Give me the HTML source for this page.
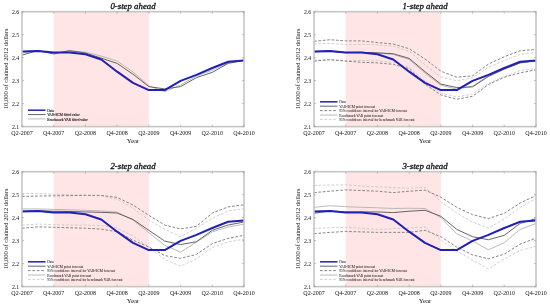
<!DOCTYPE html><html><head><meta charset="utf-8"><style>html,body{margin:0;padding:0;background:#fff;width:550px;height:307px;overflow:hidden}svg{display:block;filter:blur(0.35px)}text{font-family:"Liberation Serif",serif;fill:#111}</style></head><body>
<svg width="550" height="307" viewBox="0 0 550 307">
<rect x="53.71" y="11.7" width="95.14" height="114.9" fill="#ffe5e5"/>
<polyline points="22,53.06 37.86,50.77 53.71,52.83 69.57,51.23 85.43,52.14 101.29,56.05 117.14,61.11 133,71.91 148.86,85.93 164.71,91.67 180.57,85.01 196.43,76.04 212.29,70.3 228.14,62.72 244,59.96" fill="none" stroke="#aaaaaa" stroke-width="0.8" stroke-linejoin="round"/>
<polyline points="22,55.13 37.86,50.54 53.71,53.98 69.57,50.54 85.43,53.06 101.29,58.12 117.14,63.41 133,74.21 148.86,86.61 164.71,88.91 180.57,86.61 196.43,77.65 212.29,72.37 228.14,63.41 244,60.42" fill="none" stroke="#555" stroke-width="0.9" stroke-linejoin="round"/>
<polyline points="22,51.46 37.86,51 53.71,52.6 69.57,52.6 85.43,54.21 101.29,59.5 117.14,71.68 133,82.94 148.86,90.06 164.71,90.06 180.57,80.87 196.43,74.89 212.29,68 228.14,61.8 244,60.42" fill="none" stroke="#2020b8" stroke-width="2.0" stroke-linejoin="round"/>
<rect x="22" y="11.7" width="222" height="114.9" fill="none" stroke="#c6c6c6" stroke-width="1.6"/>
<path d="M22,126.6v-2M22,11.7v2M53.71,126.6v-2M53.71,11.7v2M85.43,126.6v-2M85.43,11.7v2M117.14,126.6v-2M117.14,11.7v2M148.86,126.6v-2M148.86,11.7v2M180.57,126.6v-2M180.57,11.7v2M212.29,126.6v-2M212.29,11.7v2M244,126.6v-2M244,11.7v2M22,11.7h2M244,11.7h-2M22,34.68h2M244,34.68h-2M22,57.66h2M244,57.66h-2M22,80.64h2M244,80.64h-2M22,103.62h2M244,103.62h-2M22,126.6h2M244,126.6h-2" stroke="#999" stroke-width="0.6" fill="none"/>
<text x="22" y="134.6" font-size="6" text-anchor="middle">Q2-2007</text>
<text x="53.71" y="134.6" font-size="6" text-anchor="middle">Q4-2007</text>
<text x="85.43" y="134.6" font-size="6" text-anchor="middle">Q2-2008</text>
<text x="117.14" y="134.6" font-size="6" text-anchor="middle">Q4-2008</text>
<text x="148.86" y="134.6" font-size="6" text-anchor="middle">Q2-2009</text>
<text x="180.57" y="134.6" font-size="6" text-anchor="middle">Q4-2009</text>
<text x="212.29" y="134.6" font-size="6" text-anchor="middle">Q2-2010</text>
<text x="244" y="134.6" font-size="6" text-anchor="middle">Q4-2010</text>
<text x="19.2" y="13.6" font-size="5.8" text-anchor="end">2.6</text>
<text x="19.2" y="36.58" font-size="5.8" text-anchor="end">2.5</text>
<text x="19.2" y="59.56" font-size="5.8" text-anchor="end">2.4</text>
<text x="19.2" y="82.54" font-size="5.8" text-anchor="end">2.3</text>
<text x="19.2" y="105.52" font-size="5.8" text-anchor="end">2.2</text>
<text x="19.2" y="128.5" font-size="5.8" text-anchor="end">2.1</text>
<text x="133" y="142.7" font-size="6.8" text-anchor="middle">Year</text>
<text transform="translate(8.1,68.9) rotate(-90)" font-size="6.5" text-anchor="middle">10,000 of chained 2012 dollars</text>
<text x="133" y="8.9" font-size="8.8" font-style="italic" text-anchor="middle" stroke="#111" stroke-width="0.3">0-step ahead</text>
<line x1="28" y1="110.2" x2="45.5" y2="110.2" stroke="#2020b8" stroke-width="1.5"/>
<text x="47.3" y="111.8" font-size="3.5" stroke="#222" stroke-width="0.1">Data</text>
<line x1="28" y1="114.55" x2="45.5" y2="114.55" stroke="#555" stroke-width="0.9"/>
<text x="47.3" y="116.15" font-size="3.5" stroke="#222" stroke-width="0.1">VAR-ECM fitted value</text>
<line x1="28" y1="118.9" x2="45.5" y2="118.9" stroke="#aaaaaa" stroke-width="0.8"/>
<text x="47.3" y="120.5" font-size="3.5" stroke="#222" stroke-width="0.1">Benchmark VAR fitted value</text>
<rect x="345.71" y="11.7" width="95.14" height="114.9" fill="#ffe5e5"/>
<polyline points="314,43.87 329.86,43.41 345.71,44.56 361.57,44.33 377.43,44.79 393.29,46.17 409.14,51.23 425,64.78 440.86,76.96 456.71,80.87 472.57,77.88 488.43,67.31 504.29,60.42 520.14,54.44 536,52.37" fill="none" stroke="#c4c4c4" stroke-width="0.8" stroke-linejoin="round" stroke-dasharray="2.7 1.7"/>
<polyline points="314,59.96 329.86,59.5 345.71,60.65 361.57,60.42 377.43,60.88 393.29,62.26 409.14,67.31 425,80.87 440.86,93.05 456.71,96.96 472.57,93.97 488.43,83.4 504.29,76.5 520.14,70.53 536,68.46" fill="none" stroke="#c4c4c4" stroke-width="0.8" stroke-linejoin="round" stroke-dasharray="2.7 1.7"/>
<polyline points="314,52.14 329.86,51.69 345.71,52.83 361.57,52.6 377.43,53.06 393.29,54.44 409.14,59.5 425,73.06 440.86,85.24 456.71,89.14 472.57,86.16 488.43,75.58 504.29,68.69 520.14,62.72 536,60.65" fill="none" stroke="#aaaaaa" stroke-width="0.8" stroke-linejoin="round"/>
<polyline points="314,41.34 329.86,39.74 345.71,40.88 361.57,40.88 377.43,42.49 393.29,44.1 409.14,48.7 425,59.04 440.86,71.22 456.71,77.19 472.57,75.81 488.43,64.09 504.29,56.74 520.14,50.77 536,49.39" fill="none" stroke="#808080" stroke-width="0.95" stroke-linejoin="round" stroke-dasharray="2.7 1.7"/>
<polyline points="314,61.11 329.86,59.73 345.71,61.11 361.57,62.26 377.43,62.95 393.29,64.32 409.14,68.69 425,84.09 440.86,94.89 456.71,99.25 472.57,96.27 488.43,84.55 504.29,77.19 520.14,72.83 536,69.84" fill="none" stroke="#808080" stroke-width="0.95" stroke-linejoin="round" stroke-dasharray="2.7 1.7"/>
<polyline points="314,51.69 329.86,51.23 345.71,52.6 361.57,52.37 377.43,52.83 393.29,53.75 409.14,58.35 425,71.68 440.86,84.09 456.71,87.53 472.57,86.84 488.43,76.5 504.29,69.15 520.14,62.95 536,60.88" fill="none" stroke="#555" stroke-width="0.9" stroke-linejoin="round"/>
<polyline points="314,51.46 329.86,51 345.71,52.6 361.57,52.6 377.43,54.21 393.29,59.5 409.14,71.68 425,82.94 440.86,90.06 456.71,90.06 472.57,80.87 488.43,74.89 504.29,68 520.14,61.8 536,60.42" fill="none" stroke="#2020b8" stroke-width="2.0" stroke-linejoin="round"/>
<rect x="314" y="11.7" width="222" height="114.9" fill="none" stroke="#c6c6c6" stroke-width="1.6"/>
<path d="M314,126.6v-2M314,11.7v2M345.71,126.6v-2M345.71,11.7v2M377.43,126.6v-2M377.43,11.7v2M409.14,126.6v-2M409.14,11.7v2M440.86,126.6v-2M440.86,11.7v2M472.57,126.6v-2M472.57,11.7v2M504.29,126.6v-2M504.29,11.7v2M536,126.6v-2M536,11.7v2M314,11.7h2M536,11.7h-2M314,34.68h2M536,34.68h-2M314,57.66h2M536,57.66h-2M314,80.64h2M536,80.64h-2M314,103.62h2M536,103.62h-2M314,126.6h2M536,126.6h-2" stroke="#999" stroke-width="0.6" fill="none"/>
<text x="314" y="134.6" font-size="6" text-anchor="middle">Q2-2007</text>
<text x="345.71" y="134.6" font-size="6" text-anchor="middle">Q4-2007</text>
<text x="377.43" y="134.6" font-size="6" text-anchor="middle">Q2-2008</text>
<text x="409.14" y="134.6" font-size="6" text-anchor="middle">Q4-2008</text>
<text x="440.86" y="134.6" font-size="6" text-anchor="middle">Q2-2009</text>
<text x="472.57" y="134.6" font-size="6" text-anchor="middle">Q4-2009</text>
<text x="504.29" y="134.6" font-size="6" text-anchor="middle">Q2-2010</text>
<text x="536" y="134.6" font-size="6" text-anchor="middle">Q4-2010</text>
<text x="311.2" y="13.6" font-size="5.8" text-anchor="end">2.6</text>
<text x="311.2" y="36.58" font-size="5.8" text-anchor="end">2.5</text>
<text x="311.2" y="59.56" font-size="5.8" text-anchor="end">2.4</text>
<text x="311.2" y="82.54" font-size="5.8" text-anchor="end">2.3</text>
<text x="311.2" y="105.52" font-size="5.8" text-anchor="end">2.2</text>
<text x="311.2" y="128.5" font-size="5.8" text-anchor="end">2.1</text>
<text x="425" y="142.7" font-size="6.8" text-anchor="middle">Year</text>
<text transform="translate(300.1,68.9) rotate(-90)" font-size="6.5" text-anchor="middle">10,000 of chained 2012 dollars</text>
<text x="425" y="8.9" font-size="8.8" font-style="italic" text-anchor="middle" stroke="#111" stroke-width="0.3">1-step ahead</text>
<line x1="320" y1="101.8" x2="337.5" y2="101.8" stroke="#2020b8" stroke-width="1.5"/>
<text x="339.3" y="103.4" font-size="3.5" stroke="#222" stroke-width="0.03">Data</text>
<line x1="320" y1="106.2" x2="337.5" y2="106.2" stroke="#555" stroke-width="0.9"/>
<text x="339.3" y="107.8" font-size="3.5" stroke="#222" stroke-width="0.03">VAR-ECM point forecast</text>
<line x1="320" y1="110.6" x2="337.5" y2="110.6" stroke="#808080" stroke-width="0.95" stroke-dasharray="2.7 1.7"/>
<text x="339.3" y="112.2" font-size="3.5" stroke="#222" stroke-width="0.03">95% confidence interval for VAR-ECM forecast</text>
<line x1="320" y1="115" x2="337.5" y2="115" stroke="#aaaaaa" stroke-width="0.8"/>
<text x="339.3" y="116.6" font-size="3.5" stroke="#222" stroke-width="0.03">Benchmark VAR point forecast</text>
<line x1="320" y1="119.4" x2="337.5" y2="119.4" stroke="#c4c4c4" stroke-width="0.8" stroke-dasharray="2.7 1.7"/>
<text x="339.3" y="121" font-size="3.5" stroke="#222" stroke-width="0.03">95% confidence interval for benchmark VAR forecast</text>
<rect x="53.71" y="171.7" width="95.14" height="114.9" fill="#ffe5e5"/>
<polyline points="22,193.3 37.86,193.53 53.71,194.22 69.57,194.68 85.43,195.14 101.29,195.83 117.14,199.28 133,208.01 148.86,219.96 164.71,229.38 180.57,236.73 196.43,228.23 212.29,218.35 228.14,211 244,208.7" fill="none" stroke="#c4c4c4" stroke-width="0.8" stroke-linejoin="round" stroke-dasharray="2.7 1.7"/>
<polyline points="22,225.01 37.86,224.09 53.71,224.55 69.57,225.01 85.43,225.01 101.29,225.7 117.14,228 133,236.04 148.86,247.07 164.71,259.48 180.57,266.15 196.43,258.79 212.29,247.53 228.14,241.79 244,239.26" fill="none" stroke="#c4c4c4" stroke-width="0.8" stroke-linejoin="round" stroke-dasharray="2.7 1.7"/>
<polyline points="22,208.93 37.86,208.93 53.71,209.39 69.57,209.85 85.43,210.31 101.29,211 117.14,212.14 133,219.96 148.86,232.83 164.71,245.24 180.57,252.13 196.43,242.02 212.29,231.91 228.14,227.08 244,224.09" fill="none" stroke="#aaaaaa" stroke-width="0.8" stroke-linejoin="round"/>
<polyline points="22,196.52 37.86,196.06 53.71,195.83 69.57,195.6 85.43,195.37 101.29,195.37 117.14,197.44 133,205.02 148.86,215.36 164.71,225.01 180.57,228.92 196.43,226.39 212.29,213.06 228.14,206.86 244,204.79" fill="none" stroke="#808080" stroke-width="0.95" stroke-linejoin="round" stroke-dasharray="2.7 1.7"/>
<polyline points="22,228.23 37.86,226.85 53.71,227.31 69.57,227.77 85.43,228.23 101.29,229.15 117.14,231.68 133,240.18 148.86,247.07 164.71,255.58 180.57,258.33 196.43,254.43 212.29,243.63 228.14,238.34 244,235.35" fill="none" stroke="#808080" stroke-width="0.95" stroke-linejoin="round" stroke-dasharray="2.7 1.7"/>
<polyline points="22,211.23 37.86,210.77 53.71,211.23 69.57,211.46 85.43,211.92 101.29,212.37 117.14,213.06 133,219.5 148.86,230.3 164.71,241.1 180.57,244.55 196.43,241.79 212.29,230.3 228.14,225.01 244,222.03" fill="none" stroke="#555" stroke-width="0.9" stroke-linejoin="round"/>
<polyline points="22,211.46 37.86,211 53.71,212.6 69.57,212.6 85.43,214.21 101.29,219.5 117.14,231.68 133,242.94 148.86,250.06 164.71,250.06 180.57,240.87 196.43,234.89 212.29,228 228.14,221.8 244,220.42" fill="none" stroke="#2020b8" stroke-width="2.0" stroke-linejoin="round"/>
<rect x="22" y="171.7" width="222" height="114.9" fill="none" stroke="#c6c6c6" stroke-width="1.6"/>
<path d="M22,286.6v-2M22,171.7v2M53.71,286.6v-2M53.71,171.7v2M85.43,286.6v-2M85.43,171.7v2M117.14,286.6v-2M117.14,171.7v2M148.86,286.6v-2M148.86,171.7v2M180.57,286.6v-2M180.57,171.7v2M212.29,286.6v-2M212.29,171.7v2M244,286.6v-2M244,171.7v2M22,171.7h2M244,171.7h-2M22,194.68h2M244,194.68h-2M22,217.66h2M244,217.66h-2M22,240.64h2M244,240.64h-2M22,263.62h2M244,263.62h-2M22,286.6h2M244,286.6h-2" stroke="#999" stroke-width="0.6" fill="none"/>
<text x="22" y="294.6" font-size="6" text-anchor="middle">Q2-2007</text>
<text x="53.71" y="294.6" font-size="6" text-anchor="middle">Q4-2007</text>
<text x="85.43" y="294.6" font-size="6" text-anchor="middle">Q2-2008</text>
<text x="117.14" y="294.6" font-size="6" text-anchor="middle">Q4-2008</text>
<text x="148.86" y="294.6" font-size="6" text-anchor="middle">Q2-2009</text>
<text x="180.57" y="294.6" font-size="6" text-anchor="middle">Q4-2009</text>
<text x="212.29" y="294.6" font-size="6" text-anchor="middle">Q2-2010</text>
<text x="244" y="294.6" font-size="6" text-anchor="middle">Q4-2010</text>
<text x="19.2" y="173.6" font-size="5.8" text-anchor="end">2.6</text>
<text x="19.2" y="196.58" font-size="5.8" text-anchor="end">2.5</text>
<text x="19.2" y="219.56" font-size="5.8" text-anchor="end">2.4</text>
<text x="19.2" y="242.54" font-size="5.8" text-anchor="end">2.3</text>
<text x="19.2" y="265.52" font-size="5.8" text-anchor="end">2.2</text>
<text x="19.2" y="288.5" font-size="5.8" text-anchor="end">2.1</text>
<text x="133" y="302.7" font-size="6.8" text-anchor="middle">Year</text>
<text transform="translate(8.1,228.9) rotate(-90)" font-size="6.5" text-anchor="middle">10,000 of chained 2012 dollars</text>
<text x="133" y="168.9" font-size="8.8" font-style="italic" text-anchor="middle" stroke="#111" stroke-width="0.3">2-step ahead</text>
<line x1="28" y1="261.8" x2="45.5" y2="261.8" stroke="#2020b8" stroke-width="1.5"/>
<text x="47.3" y="263.4" font-size="3.5" stroke="#222" stroke-width="0.03">Data</text>
<line x1="28" y1="266.2" x2="45.5" y2="266.2" stroke="#555" stroke-width="0.9"/>
<text x="47.3" y="267.8" font-size="3.5" stroke="#222" stroke-width="0.03">VAR-ECM point forecast</text>
<line x1="28" y1="270.6" x2="45.5" y2="270.6" stroke="#808080" stroke-width="0.95" stroke-dasharray="2.7 1.7"/>
<text x="47.3" y="272.2" font-size="3.5" stroke="#222" stroke-width="0.03">95% confidence interval for VAR-ECM forecast</text>
<line x1="28" y1="275" x2="45.5" y2="275" stroke="#aaaaaa" stroke-width="0.8"/>
<text x="47.3" y="276.6" font-size="3.5" stroke="#222" stroke-width="0.03">Benchmark VAR point forecast</text>
<line x1="28" y1="279.4" x2="45.5" y2="279.4" stroke="#c4c4c4" stroke-width="0.8" stroke-dasharray="2.7 1.7"/>
<text x="47.3" y="281" font-size="3.5" stroke="#222" stroke-width="0.03">95% confidence interval for benchmark VAR forecast</text>
<rect x="345.71" y="171.7" width="95.14" height="114.9" fill="#ffe5e5"/>
<polyline points="314,185.49 329.86,185.03 345.71,184.8 361.57,185.95 377.43,186.87 393.29,187.56 409.14,188.25 425,187.33 440.86,201.57 456.71,213.06 472.57,222.03 488.43,228 504.29,219.04 520.14,207.32 536,198.59" fill="none" stroke="#c4c4c4" stroke-width="0.8" stroke-linejoin="round" stroke-dasharray="2.7 1.7"/>
<polyline points="314,228.46 329.86,227.77 345.71,227.31 361.57,228.23 377.43,229.38 393.29,228.69 409.14,228 425,227.31 440.86,239.95 456.71,250.98 472.57,260.17 488.43,268.91 504.29,259.02 520.14,250.52 536,246.39" fill="none" stroke="#c4c4c4" stroke-width="0.8" stroke-linejoin="round" stroke-dasharray="2.7 1.7"/>
<polyline points="314,207.32 329.86,205.71 345.71,206.63 361.57,207.32 377.43,207.78 393.29,208.47 409.14,208.24 425,208.47 440.86,217.66 456.71,233.75 472.57,241.1 488.43,249.83 504.29,242.71 520.14,229.38 536,223.41" fill="none" stroke="#aaaaaa" stroke-width="0.8" stroke-linejoin="round"/>
<polyline points="314,192.61 329.86,191.23 345.71,189.85 361.57,190.54 377.43,191.23 393.29,192.61 409.14,191.23 425,190.08 440.86,197.21 456.71,207.32 472.57,214.67 488.43,218.58 504.29,213.29 520.14,202.95 536,195.6" fill="none" stroke="#808080" stroke-width="0.95" stroke-linejoin="round" stroke-dasharray="2.7 1.7"/>
<polyline points="314,233.75 329.86,232.37 345.71,231.45 361.57,231.91 377.43,232.37 393.29,232.37 409.14,232.37 425,230.3 440.86,236.73 456.71,247.07 472.57,254.89 488.43,258.79 504.29,254.2 520.14,244.09 536,238.11" fill="none" stroke="#808080" stroke-width="0.95" stroke-linejoin="round" stroke-dasharray="2.7 1.7"/>
<polyline points="314,213.29 329.86,211 345.71,211.92 361.57,211.92 377.43,211.92 393.29,212.6 409.14,211.23 425,210.31 440.86,216.28 456.71,229.38 472.57,236.73 488.43,239.72 504.29,235.35 520.14,223.41 536,218.58" fill="none" stroke="#555" stroke-width="0.9" stroke-linejoin="round"/>
<polyline points="314,211.46 329.86,211 345.71,212.6 361.57,212.6 377.43,214.21 393.29,219.5 409.14,231.68 425,242.94 440.86,250.06 456.71,250.06 472.57,240.87 488.43,234.89 504.29,228 520.14,221.8 536,220.42" fill="none" stroke="#2020b8" stroke-width="2.0" stroke-linejoin="round"/>
<rect x="314" y="171.7" width="222" height="114.9" fill="none" stroke="#c6c6c6" stroke-width="1.6"/>
<path d="M314,286.6v-2M314,171.7v2M345.71,286.6v-2M345.71,171.7v2M377.43,286.6v-2M377.43,171.7v2M409.14,286.6v-2M409.14,171.7v2M440.86,286.6v-2M440.86,171.7v2M472.57,286.6v-2M472.57,171.7v2M504.29,286.6v-2M504.29,171.7v2M536,286.6v-2M536,171.7v2M314,171.7h2M536,171.7h-2M314,194.68h2M536,194.68h-2M314,217.66h2M536,217.66h-2M314,240.64h2M536,240.64h-2M314,263.62h2M536,263.62h-2M314,286.6h2M536,286.6h-2" stroke="#999" stroke-width="0.6" fill="none"/>
<text x="314" y="294.6" font-size="6" text-anchor="middle">Q2-2007</text>
<text x="345.71" y="294.6" font-size="6" text-anchor="middle">Q4-2007</text>
<text x="377.43" y="294.6" font-size="6" text-anchor="middle">Q2-2008</text>
<text x="409.14" y="294.6" font-size="6" text-anchor="middle">Q4-2008</text>
<text x="440.86" y="294.6" font-size="6" text-anchor="middle">Q2-2009</text>
<text x="472.57" y="294.6" font-size="6" text-anchor="middle">Q4-2009</text>
<text x="504.29" y="294.6" font-size="6" text-anchor="middle">Q2-2010</text>
<text x="536" y="294.6" font-size="6" text-anchor="middle">Q4-2010</text>
<text x="311.2" y="173.6" font-size="5.8" text-anchor="end">2.6</text>
<text x="311.2" y="196.58" font-size="5.8" text-anchor="end">2.5</text>
<text x="311.2" y="219.56" font-size="5.8" text-anchor="end">2.4</text>
<text x="311.2" y="242.54" font-size="5.8" text-anchor="end">2.3</text>
<text x="311.2" y="265.52" font-size="5.8" text-anchor="end">2.2</text>
<text x="311.2" y="288.5" font-size="5.8" text-anchor="end">2.1</text>
<text x="425" y="302.7" font-size="6.8" text-anchor="middle">Year</text>
<text transform="translate(300.1,228.9) rotate(-90)" font-size="6.5" text-anchor="middle">10,000 of chained 2012 dollars</text>
<text x="425" y="168.9" font-size="8.8" font-style="italic" text-anchor="middle" stroke="#111" stroke-width="0.3">3-step ahead</text>
<line x1="320" y1="261.8" x2="337.5" y2="261.8" stroke="#2020b8" stroke-width="1.5"/>
<text x="339.3" y="263.4" font-size="3.5" stroke="#222" stroke-width="0.03">Data</text>
<line x1="320" y1="266.2" x2="337.5" y2="266.2" stroke="#555" stroke-width="0.9"/>
<text x="339.3" y="267.8" font-size="3.5" stroke="#222" stroke-width="0.03">VAR-ECM point forecast</text>
<line x1="320" y1="270.6" x2="337.5" y2="270.6" stroke="#808080" stroke-width="0.95" stroke-dasharray="2.7 1.7"/>
<text x="339.3" y="272.2" font-size="3.5" stroke="#222" stroke-width="0.03">95% confidence interval for VAR-ECM forecast</text>
<line x1="320" y1="275" x2="337.5" y2="275" stroke="#aaaaaa" stroke-width="0.8"/>
<text x="339.3" y="276.6" font-size="3.5" stroke="#222" stroke-width="0.03">Benchmark VAR point forecast</text>
<line x1="320" y1="279.4" x2="337.5" y2="279.4" stroke="#c4c4c4" stroke-width="0.8" stroke-dasharray="2.7 1.7"/>
<text x="339.3" y="281" font-size="3.5" stroke="#222" stroke-width="0.03">95% confidence interval for benchmark VAR forecast</text>
</svg></body></html>
